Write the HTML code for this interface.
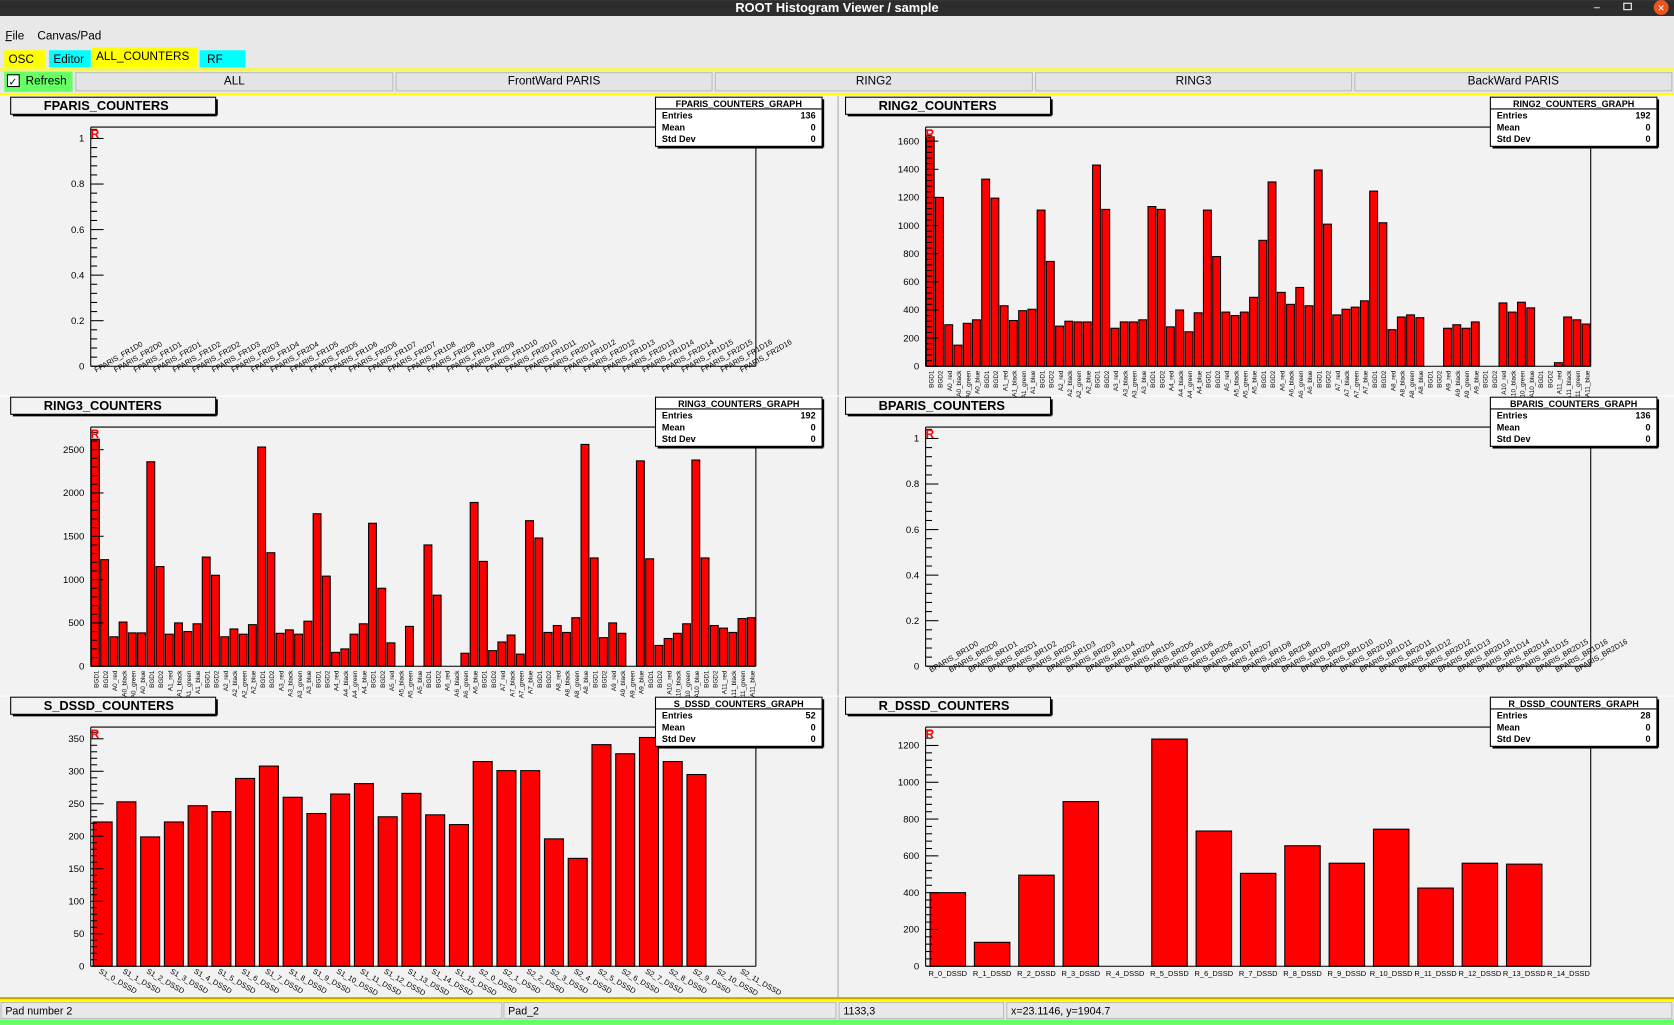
<!DOCTYPE html>
<html><head><meta charset="utf-8"><style>
html,body{margin:0;padding:0;background:#f2f2f2;overflow:hidden}
svg{display:block;font-family:"Liberation Sans",sans-serif}
</style></head><body>
<svg id="s" width="1674" height="1025" viewBox="0 0 1568 960" xmlns="http://www.w3.org/2000/svg"></svg>
<script>
var o=[];
function R(x,y,w,h,f,st){o.push('<rect x="'+x+'" y="'+y+'" width="'+w+'" height="'+h+'" fill="'+f+'"'+(st?' stroke="'+st+'" stroke-width="1"':'')+'/>');}
function T(x,y,t,sz,opt){opt=opt||{};o.push('<text x="'+x+'" y="'+y+'" font-size="'+sz+'" fill="'+(opt.c||'#000')+'"'+(opt.a?' text-anchor="'+opt.a+'"':'')+(opt.b?' font-weight="bold"':'')+(opt.tr?' transform="'+opt.tr+'"':'')+'>'+t+'</text>');}
function L(x1,y1,x2,y2,c,w){o.push('<line x1="'+x1+'" y1="'+y1+'" x2="'+x2+'" y2="'+y2+'" stroke="'+(c||'#000')+'" stroke-width="'+(w||1)+'"/>');}
// chrome
R(0,0,1568,15,'#2d2d2d');T(784,11,'ROOT Histogram Viewer / sample',12,{a:'middle',b:1,c:'#fff'});
o.push('<circle cx="1556" cy="7" r="7" fill="#e95420"/>');T(1556,11,'×',11,{a:'middle',c:'#fff'});
T(1493,10,'–',10,{c:'#fff'});R(1521,3,7,6,'none','#fff');
R(0,15,1568,75,'#e8e8e8');
T(5,37,'File',11);L(5,38,11,38);T(35,37,'Canvas/Pad',11);
R(4,47,39,16,'#ffff00');T(8,59,'OSC',11);
R(46,47,39,16,'#00ffff');T(50,59,'Editor',11);
R(86,44,99,19,'#ffff00');T(90,56,'ALL_COUNTERS',11);
R(187,47,43,16,'#00ffff');T(194,59,'RF',11);
R(0,64,1568,2,'#ffff00');
R(4,67,64,19,'#66ff66');R(7,70,11,11,'#fff','#000');T(8,80,'✓',10);T(24,79,'Refresh',11);
var bt=[[71,368,'ALL'],[371,667,'FrontWard PARIS'],[670,967,'RING2'],[970,1266,'RING3'],[1269,1566,'BackWard PARIS']];
bt.forEach(function(b){R(b[0],68,b[1]-b[0],17,'#e4e4e4','#bbb');T((b[0]+b[1])/2,79,b[2],11,{a:'middle'});});
R(0,87,1568,2,'#ffff00');
R(0,89,1568,849,'#f2f2f2');
L(785,90,785,936,'#aaa');L(0,371,1568,371,'#fff');L(0,652,1568,652,'#fff');
R(0,934,1568,2,'#c8a000');R(0,936,1568,2,'#ffff00');
// status
R(0,938,1568,17,'#e8e8e8');
[[1,470,'Pad number 2'],[472,783,'Pad_2'],[786,940,'1133,3'],[943,1566,'x=23.1146, y=1904.7']].forEach(function(f){R(f[0],939,f[1]-f[0],15,'#e8e8e8','#bbb');T(f[0]+4,950,f[2],10);});
R(0,955,1568,5,'#66ff66');

function pad(px,py,title,sname,ent,vals,ymax,step,fmt,labels,lrot,barfrac){
  var fx=px+81,fy=py+29,fw=623,fh=224; // frame
  var tw=title.length*8.5+50;
  R(px+6,py+1,192,16,'#f2f2f2','#000');L(px+8,py+18,px+199,py+18,'#000',2);L(px+199,py+3,px+199,py+18,'#000',2);
  T(px+37,py+13,title,12,{b:1});
  // frame
  L(fx,fy,fx+fw,fy);L(fx+fw,fy,fx+fw,fy+fh);L(fx,fy+fh,fx+fw,fy+fh);L(fx,fy,fx,fy+fh);
  var n=vals.length,bw=fw/n;
  for(var i=0;i<n;i++){if(vals[i]>0){var h=Math.min(vals[i]/ymax*fh,fh);var m=bw*(1-barfrac)/2;R(fx+i*bw+m,fy+fh-h,bw-2*m,h,'#ff0000','#000');}}
  // baseline bars small stubs for ring-type (dark edges)
  // y ticks
  var nt=Math.floor(ymax/step+1e-9);
  for(var k=0;k<=nt;k++){var v=k*step,y=fy+fh-v/ymax*fh;L(fx,y,fx+12,y);T(fx-6,y+3,fmt(v),9,{a:'end'});
    for(var j=1;j<5;j++){var vv=v+j*step/5;if(vv<=ymax){var yy=fy+fh-vv/ymax*fh;L(fx,yy,fx+6,yy);}}}
  T(fx,fy+10,'R',11,{b:1,c:'#ff0000'});
  // labels
  for(var i=0;i<labels.length;i++){var cx=fx+(i+0.5)*fw/labels.length,yb=fy+fh+4;
    if(lrot==-90)T(cx+3,yb,labels[i],6,{a:'end',tr:'rotate(-90 '+(cx+3)+' '+yb+')'});
    else T(cx-4,yb+2,labels[i],7,{tr:'rotate('+lrot+' '+(cx-4)+' '+(yb+2)+')'});}
  // stats
  var sx=px+610,sy=py+1;R(sx,sy,156,46,'#fff','#000');L(sx+2,sy+47,sx+157,sy+47,'#000',2);L(sx+157,sy+2,sx+157,sy+47,'#000',2);
  L(sx,sy+11,sx+156,sy+11);T(sx+78,sy+9,sname,8.5,{a:'middle',b:1});
  T(sx+6,sy+20,'Entries',8.5,{b:1});T(sx+150,sy+20,ent,8.5,{a:'end',b:1});
  T(sx+6,sy+31,'Mean',8.5,{b:1});T(sx+150,sy+31,'0',8.5,{a:'end',b:1});
  T(sx+6,sy+42,'Std Dev',8.5,{b:1});T(sx+150,sy+42,'0',8.5,{a:'end',b:1});
}
function zeros(n){var a=[];for(var i=0;i<n;i++)a.push(0);return a;}
function f1(v){return v==0?'0':(Math.round(v*10)/10).toString();}
function fi(v){return String(Math.round(v));}
var fl=[];for(var i=0;i<34;i++)fl.push('FPARIS_FR'+(i%2?'2':'1')+'D'+(i>>1));
var bl=[];for(var i=0;i<34;i++)bl.push('BPARIS_BR'+(i%2?'2':'1')+'D'+(i>>1));
var cols=['BGD1','BGD2','A_red','A_black','A_green','A_blue'];
var rl=[];for(var i=0;i<72;i++)rl.push(cols[i%6].replace('A_','A'+Math.floor(i/6)+'_'));
pad(4,90,'FPARIS_COUNTERS','FPARIS_COUNTERS_GRAPH','136',zeros(34),1.05,0.2,f1,fl,-30,0.8);
var r2=[1630,1200,295,150,305,330,1330,1195,430,325,395,405,1110,745,285,320,315,315,1430,1115,270,315,315,330,1135,1115,280,400,245,380,1110,780,385,360,385,490,895,1310,525,440,560,430,1395,1010,365,405,420,465,1245,1020,260,350,365,345,0,0,270,295,270,315,0,0,450,385,455,415,0,0,25,350,330,300];
pad(786,90,'RING2_COUNTERS','RING2_COUNTERS_GRAPH','192',r2,1700,200,fi,rl,-90,0.85);
var r3=[2620,1230,340,510,385,385,2360,1150,370,500,400,490,1260,1050,340,430,370,480,2530,1310,380,420,370,520,1760,1040,160,200,370,490,1650,900,270,0,460,0,1400,820,0,0,150,1890,1210,180,280,360,140,1680,1480,390,470,390,560,2560,1250,330,500,380,0,2370,1240,240,320,380,490,2380,1250,470,440,390,550,560];
pad(4,371,'RING3_COUNTERS','RING3_COUNTERS_GRAPH','192',r3,2760,500,fi,rl,-90,0.85);
pad(786,371,'BPARIS_COUNTERS','BPARIS_COUNTERS_GRAPH','136',zeros(34),1.05,0.2,f1,bl,-30,0.8);
var sd=[222,253,199,222,247,238,289,308,260,235,265,281,230,266,233,218,315,301,301,196,166,341,327,352,315,295,0,0];
var sl=[];for(var i=0;i<28;i++)sl.push('S'+(i<16?1:2)+'_'+(i%16)+'_DSSD');
pad(4,652,'S_DSSD_COUNTERS','S_DSSD_COUNTERS_GRAPH','52',sd,368,50,fi,sl,30,0.8);
var rd=[400,130,495,895,0,1235,735,505,655,560,745,425,560,555,0];
pad(786,652,'R_DSSD_COUNTERS','R_DSSD_COUNTERS_GRAPH','28',rd,1300,200,fi,[],0,0.8);
for(var i=0;i<15;i++)T(867+(i+0.5)*623/15,914,'R_'+i+'_DSSD',7,{a:'middle'});
document.getElementById('s').innerHTML=o.join('');
</script>
</body></html>
